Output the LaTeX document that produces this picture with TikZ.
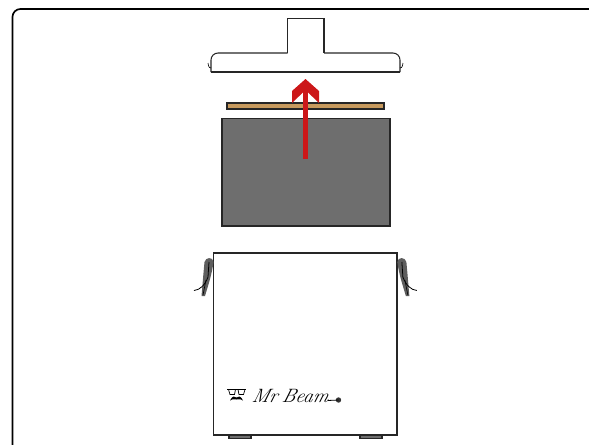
\documentclass[tikz,border=0pt]{standalone}
\usepackage{xcolor}
\definecolor{plate}{HTML}{C79A5E}
\definecolor{stock}{HTML}{6E6E6E}
\definecolor{redarrow}{HTML}{CC1719}
\tikzset{
  part/.style={draw=black!85,line width=0.6pt,line join=miter},
  hook/.style={draw=black,line width=0.35pt},
  logotext/.style={anchor=base west,inner sep=0pt,xslant=0.25,font=\itshape\fontsize{11}{11}\selectfont},
}
\newcommand{\clasp}{
  \fill[stock!85!black] (213.5,262) .. controls (213,256.5) and (205.5,257) .. (204.5,262)
    .. controls (203.5,272) and (202.5,285) .. (201.5,296) -- (205,296)
    .. controls (208,286) and (212,274) .. (213.5,262) -- cycle;
  \draw[black,line width=0.45pt] (194,290.5) .. controls (200,290) and (205,285) .. (208,277) -- (209,262);
  \draw[black,line width=0.35pt] (203,295) -- (206,280);
}
\begin{document}
\begin{tikzpicture}[x=0.02cm,y=-0.02cm,>=latex]
  \useasboundingbox (0,0) rectangle (589,444);
  % frame
  \draw[black,line width=0.95pt,rounded corners=4.5pt] (12.5,450)--(12.5,9)--(595,9);
  % hood
  \draw[part] (287.5,53)--(287.5,18.5)--(324,18.5)--(324,53);
  \draw[part,rounded corners=4pt] (211,72)--(211,53)--(287.5,53);
  \draw[part,rounded corners=4pt] (324,53)--(400,53)--(400,72);
  \draw[part] (211,72)--(400,72);
  \draw[hook] (208,63)..controls (208.5,67) and (210,69)..(211,68);
  \draw[hook] (403,63)..controls (402.5,67) and (401,69)..(400,68);
  % plate and stock
  \draw[part,fill=plate] (227,103) rectangle (384,109);
  \draw[part,fill=stock] (222,118.5) rectangle (390,226);
  % arrow
  \coordinate (tail) at (305.5,159);
  \coordinate (head) at (305.5,86);
  \draw[redarrow,line width=3.2pt] (tail)--(head);
  \fill[redarrow] (305.5,79)--(319,91)--(319,103)--(305.5,90)--(292,103)--(292,91)--cycle;
  % body
  \draw[part,fill=stock] (229,435) rectangle (251,438.5);
  \draw[part,fill=stock] (360,435) rectangle (382,438.5);
  \draw[part,fill=white] (213.5,253) rectangle (397,435);
  \clasp
  \begin{scope}[xshift=12.22cm,xscale=-1]
    \clasp
  \end{scope}
  % logo
  \draw[black,line width=0.5pt] (227,389.5)--(246,389.5);
  \draw[black,line width=0.4pt] (228.5,389.5)--(230,394.5)--(234.5,394.5)--(235.5,389.5) (238,389.5)--(239,394.5)--(243.5,394.5)--(245,389.5);
  \fill[black] (230,400.5)..controls (232,396) and (235,395.5) ..(236.5,397.5)..controls (238,395.5) and (241,396)..(243,400.5)..controls (240,398.5) and (237.5,399.5)..(236.5,399.5)..controls (235.5,399.5) and (233,398.5)..(230,400.5)--cycle;
  \node[logotext] (mr) at (251,402) {Mr};
  \node[logotext] (beam) at (281,402) {Beam};
  \fill[black!80] (338.5,400) circle (2.7);
  \foreach \a in {0,45,...,315}
    \draw[black!80,line width=0.4pt] (338.5,400)--++(\a:0.08);
  \draw[black,line width=0.45pt] (beam.base east)++(0,-1.5)--(338.5,400);
\end{tikzpicture}
\end{document}
